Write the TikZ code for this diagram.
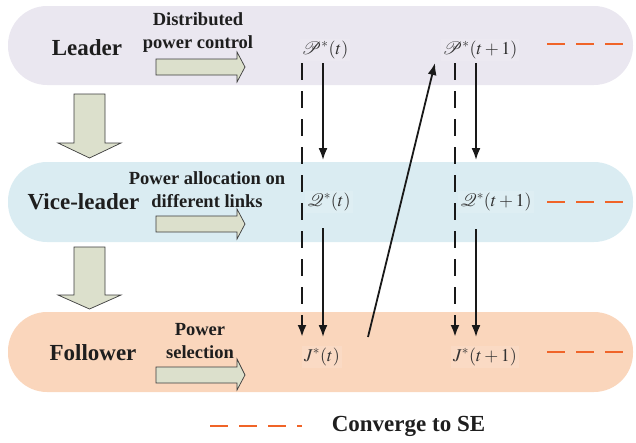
\documentclass[tikz,border=0pt]{standalone}
\usepackage{mathptmx}
\usepackage{fontspec}
\setmainfont{Liberation Serif}
\usetikzlibrary{arrows.meta}
\definecolor{leaderc}{RGB}{234,231,240}
\definecolor{vicec}{RGB}{218,236,242}
\definecolor{followc}{RGB}{250,214,188}
\definecolor{blockc}{RGB}{220,224,204}
\definecolor{blockd}{RGB}{60,60,60}
\definecolor{orangec}{RGB}{240,100,40}
\definecolor{txtc}{RGB}{30,30,30}
\tikzset{
  band/.style={rounded corners=39pt},
  blockarrow/.style={fill=blockc,draw=blockd,line width=0.7pt,line join=miter},
  role/.style={font=\fontsize{23}{26}\selectfont\bfseries,text=txtc,inner sep=0pt},
  act/.style={font=\fontsize{18.5}{23}\selectfont\bfseries,text=txtc,align=center,inner sep=0pt},
  mathlbl/.style={font=\fontsize{18}{21}\selectfont,text=black!80,fill=white,fill opacity=0.12,text opacity=1,inner sep=2pt},
  conv/.style={orangec,line width=2.2pt,dash pattern=on 18pt off 11pt},
  flow/.style={line width=1.8pt,black!90,-{Latex[length=12pt,width=9pt]}},
  dflow/.style={line width=2.6pt,black!90,dash pattern=on 17pt off 11pt,-{Latex[length=12pt,width=9pt]}},
}
\begin{document}
\begin{tikzpicture}[x=1pt,y=-1pt]
\useasboundingbox (0,0) rectangle (636,442);
% bands
\fill[band,leaderc] (8,6) rectangle (633,85);
\fill[band,vicec] (8,162) rectangle (633,242);
\fill[band,followc] (8,312) rectangle (633,392);
% vertical block arrows
\draw[blockarrow] (74,94) -- (105,94) -- (105,143) -- (121,143) -- (89.5,158) -- (58,143) -- (74,143) -- cycle;
\draw[blockarrow] (74,247) -- (105,247) -- (105,295) -- (121,295) -- (89.5,309) -- (58,295) -- (74,295) -- cycle;
% horizontal block arrows
\draw[blockarrow] (156,59) -- (237,59) -- (237,52) -- (245,67) -- (237,82) -- (237,75) -- (156,75) -- cycle;
\draw[blockarrow] (156,216) -- (237,216) -- (237,209) -- (245,224) -- (237,239) -- (237,232) -- (156,232) -- cycle;
\draw[blockarrow] (156,367) -- (237,367) -- (237,359) -- (245,375) -- (237,390) -- (237,383) -- (156,383) -- cycle;
% role texts
\node[role] (leader) at (87,48) {Leader};
\node[role] (vice) at (83.5,202) {Vice-leader};
\node[role] (follower) at (93,353) {Follower};
\node[act] (dpc) at (198,32.5) {Distributed\\power control};
\node[act] (pal) at (207,190) {Power allocation on\\different links};
\node[act] (ps) at (200,341.5) {Power\\selection};
% math labels
\node[mathlbl] (p1) at (325,50) {$\mathcal{P}^{*}(t)$};
\node[mathlbl] (p2) at (480,50) {$\mathcal{P}^{*}(t+1)$};
\node[mathlbl] (q1) at (329,202) {$\mathcal{Q}^{*}(t)$};
\node[mathlbl] (q2) at (496,202) {$\mathcal{Q}^{*}(t+1)$};
\node[mathlbl] (j1) at (322,357) {$J^{*}(t)$};
\node[mathlbl] (j2) at (485,357) {$J^{*}(t+1)$};
% connector end points
\coordinate (d1s) at (302,63);  \coordinate (d1e) at (302,337);
\coordinate (d2s) at (455,63);  \coordinate (d2e) at (455,337);
\coordinate (a1s) at (323,63);  \coordinate (a1e) at (323,160);
\coordinate (b1s) at (323,228); \coordinate (b1e) at (323,337);
\coordinate (a2s) at (476,63);  \coordinate (a2e) at (476,160);
\coordinate (b2s) at (476,229); \coordinate (b2e) at (476,337);
\coordinate (gs) at (368,337);  \coordinate (ge) at (435,63);
\draw[dflow] (d1s) -- (d1e);
\draw[dflow] (d2s) -- (d2e);
\draw[flow] (a1s) -- (a1e);
\draw[flow] (b1s) -- (b1e);
\draw[flow] (a2s) -- (a2e);
\draw[flow] (b2s) -- (b2e);
\draw[flow] (gs) -- (ge);
% convergence dashes
\coordinate (c1s) at (547,44);  \coordinate (c1e) at (623,44);
\coordinate (c2s) at (547,202); \coordinate (c2e) at (623,202);
\coordinate (c3s) at (547,352); \coordinate (c3e) at (623,352);
\draw[conv] (c1s) -- (c1e);
\draw[conv] (c2s) -- (c2e);
\draw[conv] (c3s) -- (c3e);
% legend
\coordinate (ls) at (210,426); \coordinate (le) at (302,426);
\draw[conv] (ls) -- (le);
\node[role] (legend) at (408.5,426) {Converge to SE};
\end{tikzpicture}
\end{document}
